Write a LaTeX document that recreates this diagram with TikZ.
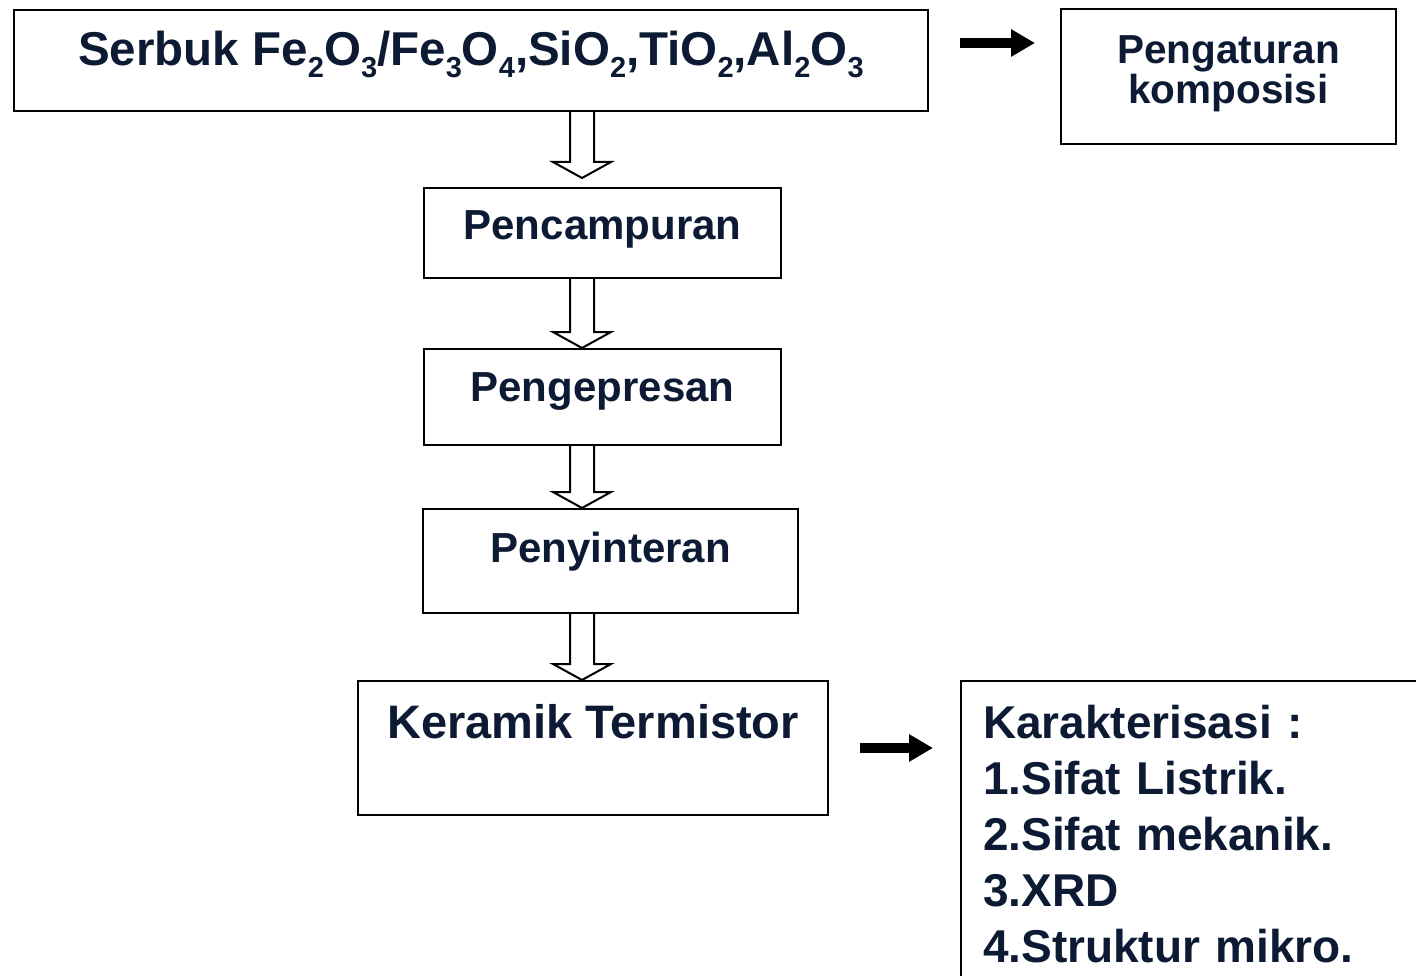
\documentclass[tikz,border=0pt]{standalone}
\usepackage{fontspec}
\setmainfont{Liberation Sans}
\usetikzlibrary{arrows.meta}
\usetikzlibrary{calc}

\definecolor{ink}{HTML}{0C1B33}
\newcommand{\chemsub}[1]{\raisebox{-12pt}{\fontsize{29}{29}\selectfont #1}}

\begin{document}
\begin{tikzpicture}[x = 1pt, y = -1pt,
  box/.style = {draw, line width = 2pt, inner sep = 0pt, text = ink, anchor = north west},
  hollow/.style = {draw, line width = 2pt, line join = miter,
   to path = {($(\tikztostart) + (-12, 0)$) -- ($(\tikztotarget) + (-12, -16)$)
   -- ($(\tikztotarget) + (-29, -16)$) -- (\tikztotarget)
   -- ($(\tikztotarget) + (29, -16)$) -- ($(\tikztotarget) + (12, -16)$)
   -- ($(\tikztostart) + (12, 0)$)}},
  fat/.style = {line width = 10pt, -{Triangle[length = 24pt, width = 26pt]}}]
  \clip (0, 0) rectangle (1416, 976);
  \coordinate (axis) at (582, 0);

  \node[box, minimum width = 914pt, text height = 56pt, text depth = 45pt,
   font = \fontsize{47.5}{50}\selectfont\bfseries] (serbuk) at (13, 9)
   {Serbuk Fe\chemsub{2}O\chemsub{3}/Fe\chemsub{3}O\chemsub{4},SiO\chemsub{2},TiO\chemsub{2},Al\chemsub{2}O\chemsub{3}};
  \node[box, minimum width = 335pt, text width = 335pt, align = center,
   text height = 55pt, text depth = 80pt,
   font = \fontsize{40.5}{40}\selectfont\bfseries] (atur) at (1060, 8)
   {Pengaturan\\komposisi};
  \node[box, minimum width = 357pt, text height = 52pt, text depth = 38pt,
   font = \fontsize{42}{46}\selectfont\bfseries] (campur) at (423, 187) {Pencampuran};
  \node[box, minimum width = 357pt, text height = 52pt, text depth = 44pt,
   font = \fontsize{42}{46}\selectfont\bfseries] (tekan) at (423, 348) {Pengepresan};
  \node[box, minimum width = 375pt, text height = 53pt, text depth = 51pt,
   font = \fontsize{42}{46}\selectfont\bfseries] (sinter) at (422, 508) {Penyinteran};
  \node[box, minimum width = 470pt, text height = 57pt, text depth = 77pt,
   font = \fontsize{47}{50}\selectfont\bfseries] (keramik) at (357, 680) {Keramik Termistor};
  \node[box, inner xsep = 22pt, text width = 500pt, align = left,
   text height = 57pt, text depth = 330pt,
   font = \fontsize{46}{56}\selectfont\bfseries] (karak) at (960, 680)
   {Karakterisasi :\\1.Sifat Listrik.\\2.Sifat mekanik.\\3.XRD\\4.Struktur mikro.};

  \draw[hollow] (serbuk.south -| axis) to ($(campur.north -| axis) + (0, -9)$);
  \draw[hollow] (campur.south -| axis) to (tekan.north -| axis);
  \draw[hollow] (tekan.south -| axis) to (sinter.north -| axis);
  \draw[hollow] (sinter.south -| axis) to (keramik.north -| axis);

  \coordinate (a1) at (960, 43);
  \coordinate (a2) at (1035, 43);
  \coordinate (b1) at (860, 748);
  \coordinate (b2) at (933, 748);
  \draw[fat] (a1) -- (a2);
  \draw[fat] (b1) -- (b2);
\end{tikzpicture}
\end{document}
